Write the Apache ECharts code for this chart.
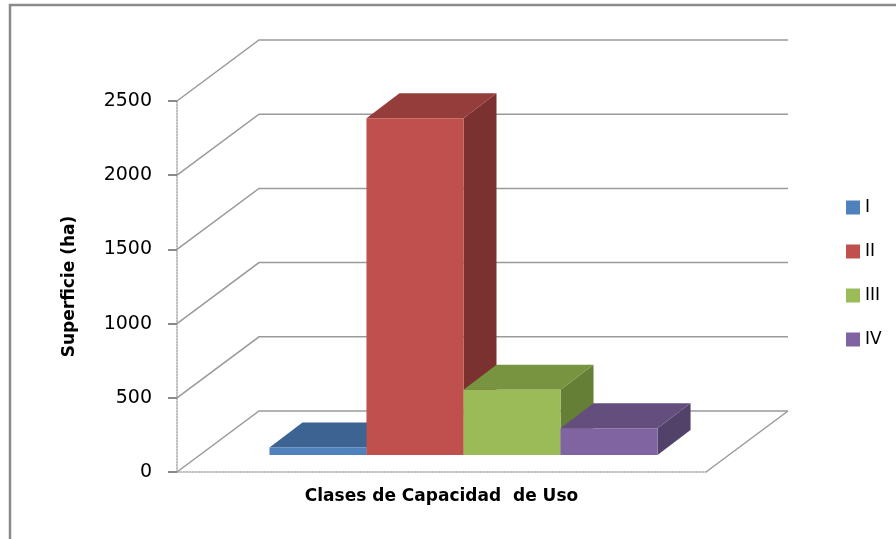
<!DOCTYPE html>
<html>
<head>
<meta charset="utf-8">
<script src="https://cdn.jsdelivr.net/npm/echarts@6/dist/echarts.min.js"></script>
<style>html,body{margin:0;padding:0;background:#fff}#c{width:896px;height:539px}</style>
</head>
<body>
<div id="c"></div>
<script>
// ---- data ----
const categories = ['Clases de Capacidad  de Uso'];
const seriesNames = ['I', 'II', 'III', 'IV'];
const valuesI = [50];
const valuesII = [2270];
const valuesIII = [440];
const valuesIV = [180];
const yTicks = [0, 500, 1000, 1500, 2000, 2500];

const seriesValues = [valuesI, valuesII, valuesIII, valuesIV];
const frontColors = ['#4F81BD', '#C0504D', '#9BBB59', '#8064A2'];
const topColors = ['#3C6392', '#943D3A', '#789440', '#634E7E'];
const sideColors = ['#345581', '#7B312F', '#667F36', '#524269'];

// 3D layout (pixels)
const WX = 82, WY = -61;        // wall depth
const FX = 22, FY = -17;        // bar front plane offset
const BX = 33, BY = -25;        // bar depth
const BAR_FRAC = 0.1834;
const gridColor = '#9a9a9a';

const chart = echarts.init(document.getElementById('c'), null, {renderer: 'canvas'});

function wallItem(params, api) {
  const cs = params.coordSys;
  const v = api.value(0);
  const y = api.coord([0, v])[1];
  const x0 = cs.x, x1 = cs.x + cs.width;
  const children = [
    {type: 'polyline', shape: {points: [[x0, y], [x0 + WX, y + WY], [x1 + WX, y + WY]]},
     style: {stroke: gridColor, lineWidth: 1.5, fill: null}}
  ];
  if (v === 0) {
    children.push({type: 'line', shape: {x1: x1, y1: y, x2: x1 + WX, y2: y + WY},
      style: {stroke: gridColor, lineWidth: 1.5}});
  }
  return {type: 'group', children: children};
}

function makeBarRender(idx) {
  return function (params, api) {
    const v = api.value(1);
    const base = api.coord([api.value(0), 0]);
    const top = api.coord([api.value(0), v]);
    const band = api.size([1, 0])[0];
    const w = band * BAR_FRAC;
    const left = base[0] - 2 * w + idx * w + FX;
    const right = left + w;
    const yb = base[1] + FY;
    const yt = top[1] + FY;
    return {
      type: 'group',
      children: [
        {type: 'polygon', shape: {points: [[right, yb], [right + BX, yb + BY], [right + BX, yt + BY], [right, yt]]},
         style: {fill: sideColors[idx]}},
        {type: 'polygon', shape: {points: [[left, yt], [left + BX, yt + BY], [right + BX, yt + BY], [right, yt]]},
         style: {fill: topColors[idx]}},
        {type: 'rect', shape: {x: left, y: yt, width: w, height: yb - yt},
         style: {fill: frontColors[idx]}}
      ]
    };
  };
}

const series = [{
  type: 'custom',
  name: '_walls',
  silent: true,
  renderItem: wallItem,
  data: yTicks.map(v => [v]),
  encode: {y: 0},
  z: 1
}];
seriesNames.forEach((n, i) => {
  series.push({
    type: 'custom',
    name: n,
    renderItem: makeBarRender(i),
    itemStyle: {color: frontColors[i]},
    data: seriesValues[i].map((v, j) => [j, v]),
    encode: {x: 0, y: 1},
    z: 2 + i
  });
});

chart.setOption({
  animation: false,
  color: frontColors,
  textStyle: {fontFamily: 'DejaVu Sans'},
  graphic: [{
    type: 'rect', shape: {x: 10, y: 5, width: 1000, height: 1000},
    style: {fill: null, stroke: '#8a8a8a', lineWidth: 2.5}, z: 100
  }],
  grid: {left: 177, top: 101, width: 529, height: 371},
  legend: {
    data: seriesNames,
    orient: 'vertical',
    left: 841,
    top: 194,
    itemWidth: 14,
    itemHeight: 14,
    itemGap: 27,
    icon: 'rect',
    textStyle: {fontSize: 17, color: '#000', fontFamily: 'DejaVu Sans'}
  },
  xAxis: {
    type: 'category',
    data: categories,
    name: categories[0],
    nameLocation: 'middle',
    nameGap: 16,
    nameTextStyle: {fontSize: 17, fontWeight: 'bold', color: '#000', fontFamily: 'DejaVu Sans'},
    axisLine: {show: true, lineStyle: {color: '#aaaaaa', type: 'dotted', width: 1.5}},
    axisTick: {show: false},
    axisLabel: {show: false},
    splitLine: {show: false}
  },
  yAxis: {
    type: 'value',
    min: 0, max: 2500, interval: 500,
    name: 'Superficie (ha)',
    nameLocation: 'middle',
    nameRotate: 90,
    nameGap: 99,
    nameTextStyle: {fontSize: 17, fontWeight: 'bold', color: '#000', fontFamily: 'DejaVu Sans'},
    axisLine: {show: true, lineStyle: {color: '#aaaaaa', type: 'dotted', width: 1.5}},
    axisTick: {show: true, length: 9, lineStyle: {color: '#8a8a8a', width: 2}},
    axisLabel: {fontSize: 19, color: '#000', margin: 25, fontFamily: 'DejaVu Sans',
                formatter: v => String(v)},
    splitLine: {show: false}
  },
  series: series
});
</script>
</body>
</html>
